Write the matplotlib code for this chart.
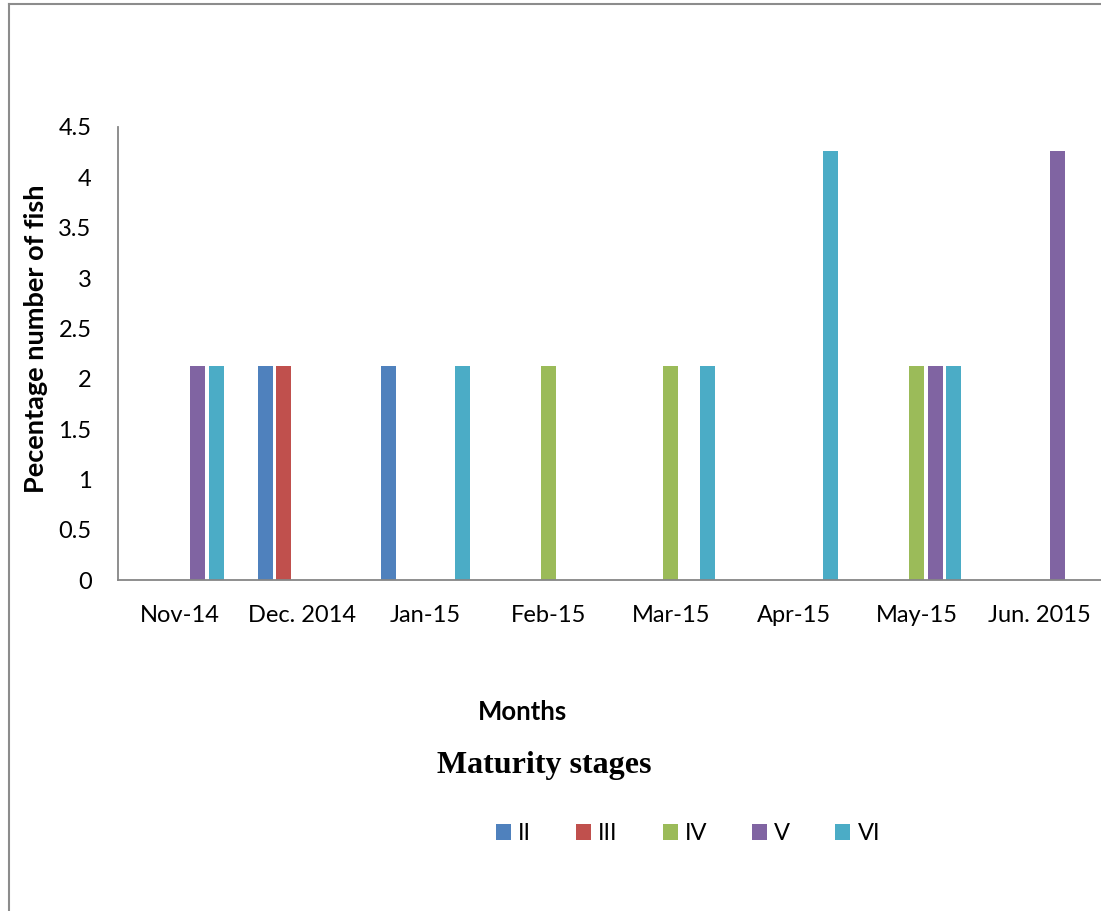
import numpy as np
import matplotlib.pyplot as plt
from matplotlib.patches import Patch
from matplotlib.lines import Line2D

months = ["Nov-14", "Dec. 2014", "Jan-15", "Feb-15", "Mar-15", "Apr-15", "May-15", "Jun. 2015"]
stages = ["II", "III", "IV", "V", "VI"]

# percentage of fish per maturity stage, one list per stage (0 = none caught)
stage_II = [0, 2.13, 2.13, 0, 0, 0, 0, 0]
stage_III = [0, 2.13, 0, 0, 0, 0, 0, 0]
stage_IV = [0, 0, 0, 2.13, 2.13, 0, 2.13, 0]
stage_V = [2.13, 0, 0, 0, 0, 0, 2.13, 4.26]
stage_VI = [2.13, 0, 2.13, 0, 2.13, 4.26, 2.13, 0]

colors = ["#4F81BD", "#C0504D", "#9BBB59", "#8064A2", "#4BACC6"]

plt.rcParams['font.family'] = ['Lato', 'DejaVu Sans']

fig = plt.figure(figsize=(11.01, 9.11), dpi=100)
ax = fig.add_axes([0.1072, 0.3633, 0.8928, 0.4973])

x = np.arange(len(months))
series = [stage_II, stage_III, stage_IV, stage_V, stage_VI]
step = 0.15
width = 0.122
for i, vals in enumerate(series):
    ax.bar(x + (i - 2) * step, vals, width, color=colors[i], label=stages[i])

ax.set_xlim(-0.5, len(months) - 0.5)
ax.set_ylim(0, 4.5)
ax.set_yticks(np.arange(0, 4.51, 0.5))
ax.set_yticklabels(["0", "0.5", "1", "1.5", "2", "2.5", "3", "3.5", "4", "4.5"])
ax.set_xticks(x)
ax.set_xticklabels(months)
ax.tick_params(axis='both', length=0, labelsize=17, colors='black')
ax.tick_params(axis='x', pad=18)
ax.tick_params(axis='y', pad=19)

for s in ['top', 'right']:
    ax.spines[s].set_visible(False)
for s in ['left', 'bottom']:
    ax.spines[s].set_color('#868686')
    ax.spines[s].set_linewidth(1.3)

fig.text(36 / 1101, 1 - 339 / 911, "Pecentage number of fish", rotation=90,
         ha='center', va='center', fontsize=19.5, fontweight='bold')
fig.text(522 / 1101, 1 - 712 / 911, "Months", ha='center', va='center',
         fontsize=18.5, fontweight='bold')
fig.text(544 / 1101, 1 - 765 / 911, "Maturity stages", ha='center', va='center',
         fontsize=23, fontweight='bold', family='Liberation Serif')

handles = [Patch(facecolor=c, edgecolor='none') for c in colors]
fig.legend(handles, stages, loc='center', bbox_to_anchor=(688 / 1101, 1 - 834 / 911),
           ncol=5, frameon=False, fontsize=17, handlelength=0.64, handleheight=0.64,
           handletextpad=0.3, columnspacing=1.9)

# outer chart-area border (left and top edges)
fig.add_artist(Line2D([9 / 1101, 9 / 1101], [0, 1 - 4 / 911], transform=fig.transFigure,
                      color='#8c8c8c', linewidth=1.5))
fig.add_artist(Line2D([9 / 1101, 1], [1 - 4 / 911, 1 - 4 / 911], transform=fig.transFigure,
                      color='#8c8c8c', linewidth=1.5))

fig.savefig("out.png", dpi=100)
